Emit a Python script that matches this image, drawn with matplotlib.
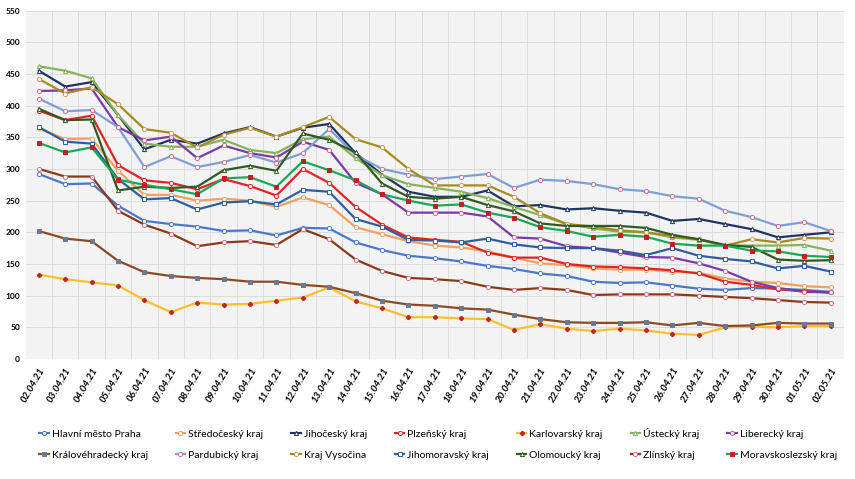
import matplotlib
matplotlib.use("Agg")
import matplotlib.pyplot as plt

dates = ["02.04.21", "03.04.21", "04.04.21", "05.04.21", "06.04.21", "07.04.21", "08.04.21",
         "09.04.21", "10.04.21", "11.04.21", "12.04.21", "13.04.21", "14.04.21", "15.04.21",
         "16.04.21", "17.04.21", "18.04.21", "19.04.21", "20.04.21", "21.04.21", "22.04.21",
         "23.04.21", "24.04.21", "25.04.21", "26.04.21", "27.04.21", "28.04.21", "29.04.21",
         "30.04.21", "01.05.21", "02.05.21"]

praha = [292, 276, 277, 242, 218, 213, 209, 202, 203, 195, 207, 206, 184, 172, 163, 159,
         154, 147, 142, 135, 131, 122, 120, 121, 116, 111, 109, 112, 111, 109, 106]
stredocesky = [364, 347, 348, 297, 259, 259, 250, 253, 250, 240, 255, 243, 208, 197, 186, 179,
               176, 170, 160, 151, 148, 143, 141, 141, 138, 136, 127, 122, 120, 115, 113]
jihocesky = [455, 430, 437, 385, 331, 346, 340, 356, 366, 351, 365, 371, 325, 291, 264, 256,
             256, 266, 241, 243, 236, 238, 234, 231, 218, 221, 213, 205, 192, 196, 200]
plzensky = [392, 377, 384, 306, 282, 278, 268, 284, 273, 258, 300, 278, 240, 212, 192, 188,
            185, 168, 160, 160, 150, 146, 145, 143, 140, 135, 122, 117, 110, 107, 105]
karlovarsky = [133, 126, 121, 116, 93, 74, 89, 86, 87, 92, 97, 113, 91, 80, 66, 66,
               64, 63, 46, 55, 48, 44, 48, 45, 40, 38, 50, 51, 50, 52, 52]
ustecky = [462, 455, 443, 385, 340, 335, 335, 346, 330, 325, 347, 351, 317, 290, 276, 270,
           264, 254, 240, 227, 213, 206, 201, 200, 192, 188, 179, 179, 179, 180, 171]
liberecky = [423, 424, 427, 366, 345, 351, 317, 337, 325, 318, 343, 330, 278, 260, 231, 231,
             231, 225, 192, 190, 178, 175, 168, 161, 160, 151, 139, 122, 112, 106, 105]
kralovehradecky = [202, 190, 186, 155, 137, 131, 128, 126, 122, 122, 117, 114, 104, 92, 86, 84,
                   80, 78, 70, 63, 58, 57, 57, 58, 53, 57, 52, 53, 57, 56, 56]
pardubicky = [411, 391, 393, 366, 303, 320, 303, 311, 322, 310, 325, 363, 322, 300, 291, 284,
              288, 292, 270, 283, 281, 276, 268, 265, 257, 253, 234, 224, 210, 216, 202]
vysocina = [442, 419, 429, 402, 363, 357, 334, 354, 365, 351, 366, 382, 347, 334, 300, 274,
            274, 274, 256, 230, 213, 209, 203, 200, 194, 189, 179, 189, 184, 191, 190]
jihomoravsky = [366, 343, 340, 284, 252, 254, 236, 247, 249, 244, 267, 264, 221, 209, 188, 187,
                184, 190, 181, 176, 175, 175, 171, 164, 175, 163, 158, 154, 143, 147, 138]
olomoucky = [395, 377, 378, 266, 272, 270, 272, 298, 305, 297, 356, 346, 326, 277, 256, 253,
             256, 243, 233, 214, 210, 210, 210, 207, 196, 189, 180, 177, 157, 155, 156]
zlinsky = [300, 288, 288, 234, 212, 198, 178, 184, 186, 180, 205, 189, 157, 139, 128, 126,
           123, 114, 109, 112, 109, 101, 102, 102, 102, 100, 98, 96, 93, 90, 89]
moravskoslezsky = [341, 326, 334, 283, 275, 268, 260, 285, 287, 272, 312, 298, 282, 260, 250, 242,
                   244, 231, 223, 208, 202, 193, 196, 193, 182, 179, 179, 171, 170, 163, 161]

# name, values, line colour, marker, marker face, marker edge
series = [
    ("Hlavní město Praha", praha, "#4a78c8", "o", "white", "#4a78c8"),
    ("Středočeský kraj", stredocesky, "#f0a060", "o", "white", "#f0a060"),
    ("Jihočeský kraj", jihocesky, "#1f3560", "^", "white", "#1f3560"),
    ("Plzeňský kraj", plzensky, "#e02424", "o", "white", "#e02424"),
    ("Karlovarský kraj", karlovarsky, "#f8c030", "P", "#c02020", "#c02020"),
    ("Ústecký kraj", ustecky, "#86b35a", "^", "white", "#86b35a"),
    ("Liberecký kraj", liberecky, "#7a3aa8", "o", "white", "#d06a8a"),
    ("Královéhradecký kraj", kralovehradecky, "#8c4a22", "s", "#6a7890", "#6a7890"),
    ("Pardubický kraj", pardubicky, "#7f9ed6", "o", "white", "#d0708a"),
    ("Kraj Vysočina", vysocina, "#a58c1c", "o", "white", "#d09a60"),
    ("Jihomoravský kraj", jihomoravsky, "#2e5e9e", "s", "white", "#2e5e9e"),
    ("Olomoucký kraj", olomoucky, "#2f5a24", "^", "white", "#2f5a24"),
    ("Zlínský kraj", zlinsky, "#8a3a18", "o", "white", "#d0708a"),
    ("Moravskoslezský kraj", moravskoslezsky, "#18a858", "s", "#c02020", "#c02020"),
]

plt.rcParams['font.family'] = ['Lato', 'DejaVu Sans']

fig = plt.figure(figsize=(8.55, 4.79), dpi=100)
ax = fig.add_axes([0.030, 0.2505, 0.957, 0.7275])
ax.set_facecolor("#f3f3f3")

x = list(range(len(dates)))
lines = []
for name, vals, col, mk, mfc, mec in series:
    ms = 3.0 if mk != "s" else 3.2
    ln, = ax.plot(x, vals, color=col, linewidth=1.6, marker=mk, markersize=ms,
                  markerfacecolor=mfc, markeredgecolor=mec, markeredgewidth=0.7,
                  label=name)
    lines.append(ln)

ax.set_xlim(-0.5, len(dates) - 0.5)
ax.set_ylim(0, 550)
ax.set_yticks(range(0, 551, 50))
ax.set_xticks([i + 0.5 for i in x[:-1]], minor=False)
ax.set_xticklabels([])
ax.set_xticks(x, minor=True)
ax.set_xticklabels(dates, minor=True, rotation=60, ha="right", rotation_mode="anchor",
                   fontsize=7, fontstyle="italic", fontweight="bold")
ax.tick_params(axis="both", which="both", length=0)
ax.tick_params(axis="y", labelsize=6, pad=4)
for lbl in ax.get_yticklabels():
    lbl.set_fontweight("bold")
ax.tick_params(axis="x", which="minor", pad=5)
ax.grid(True, which="major", color="#dcdcdc", linewidth=0.7)
ax.set_axisbelow(True)
for s in ax.spines.values():
    s.set_visible(False)

# legend filled row by row: 7 columns, 2 rows
order = []
for c in range(7):
    order += [c, c + 7]
fig.legend([lines[i] for i in order], [series[i][0] for i in order],
           loc="lower left", bbox_to_anchor=(0.035, 0.02, 0.955, 0.1), mode="expand",
           ncol=7, frameon=False, fontsize=7.5, handlelength=0.9, handletextpad=0.3,
           columnspacing=0.8, labelspacing=1.15)

fig.savefig("out.png", dpi=100)
